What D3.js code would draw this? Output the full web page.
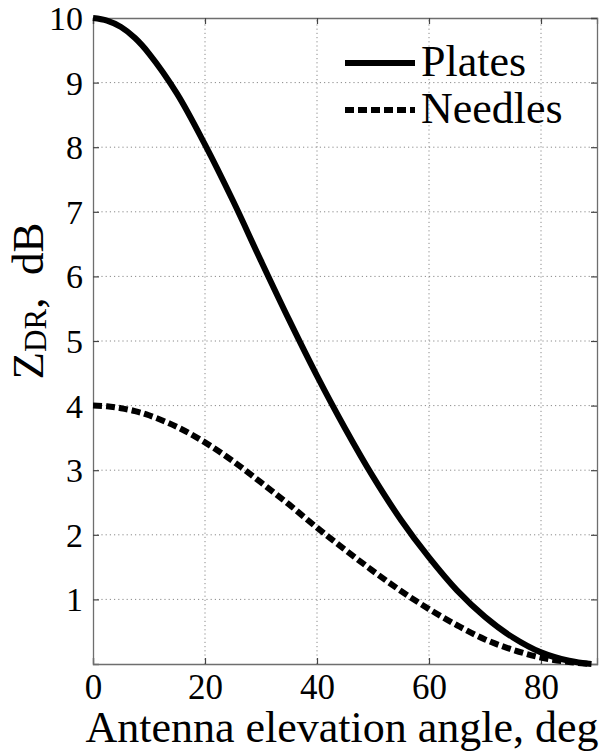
<!DOCTYPE html>
<html>
<head>
<meta charset="utf-8">
<script src="https://cdn.jsdelivr.net/npm/d3@7"></script>
<style>
  html, body { margin: 0; padding: 0; background: #fff; }
  svg { display: block; }
  svg text { font-family: "Liberation Serif", "Times New Roman", Times, "DejaVu Serif", serif !important; fill: #000; }
</style>
</head>
<body>
<svg id="chart" width="607" height="752"></svg>
<script>
// Data
const angles  = [0, 2.5, 5, 7.5, 10, 15, 20, 25, 30, 35, 40, 45, 50, 55, 60, 65, 70, 75, 80, 85, 89];
const plates  = [10, 9.96, 9.86, 9.69, 9.45, 8.83, 8.04, 7.17, 6.24, 5.33, 4.46, 3.65, 2.9, 2.23, 1.65, 1.14, 0.73, 0.41, 0.18, 0.05, 0.0];
const needles = [4.0, 3.99, 3.96, 3.915, 3.85, 3.67, 3.43, 3.14, 2.81, 2.47, 2.11, 1.77, 1.44, 1.13, 0.85, 0.6, 0.38, 0.22, 0.1, 0.03, 0.0];
const xTicks = [0, 20, 40, 60, 80];
const yTicks = [1, 2, 3, 4, 5, 6, 7, 8, 9, 10];
const seriesNames = ["Plates", "Needles"];

const FONT = '"Liberation Serif", "Times New Roman", Times, "DejaVu Serif", serif';
const margin = {left: 93, right: 10, top: 18, bottom: 88};
const W = 607, H = 752;
const svg = d3.select("#chart").attr("font-family", FONT);

const x = d3.scaleLinear().domain([0, 90]).range([margin.left, W - margin.right]);
const y = d3.scaleLinear().domain([0, 10]).range([H - margin.bottom, margin.top]);

const gridColor = "#8a8a8a";
// Grid
svg.append("g").selectAll("line.v").data(xTicks.filter(d => d > 0)).join("line")
  .attr("x1", d => x(d)).attr("x2", d => x(d))
  .attr("y1", y(0)).attr("y2", y(10))
  .attr("stroke", gridColor).attr("stroke-width", 1).attr("stroke-dasharray", "1.2,3");
svg.append("g").selectAll("line.h").data(yTicks.filter(d => d < 10)).join("line")
  .attr("x1", x(0)).attr("x2", x(90))
  .attr("y1", d => y(d)).attr("y2", d => y(d))
  .attr("stroke", gridColor).attr("stroke-width", 1).attr("stroke-dasharray", "1.2,3");

// Axes (ticks inside, box)
const axColor = "#6e6e6e";
const xAxis = svg.append("g").attr("transform", `translate(0,${y(0)})`)
  .call(d3.axisBottom(x).tickValues(xTicks).tickSize(-6).tickPadding(10).tickFormat(d3.format("d")));
const yAxis = svg.append("g").attr("transform", `translate(${x(0)},0)`)
  .call(d3.axisLeft(y).tickValues(yTicks).tickSize(-6).tickPadding(10).tickFormat(d3.format("d")));
svg.append("g").attr("transform", `translate(0,${y(10)})`)
  .call(d3.axisTop(x).tickValues(xTicks).tickSize(-6).tickFormat(""));
svg.append("g").attr("transform", `translate(${x(90)},0)`)
  .call(d3.axisRight(y).tickValues(yTicks).tickSize(-6).tickFormat(""));
svg.selectAll("g").attr("font-family", FONT);
svg.selectAll(".domain").attr("stroke", axColor).attr("stroke-width", 1.3);
svg.selectAll(".tick line").attr("stroke", "#444").attr("stroke-width", 1.2);
xAxis.selectAll(".tick text").attr("font-size", 35).attr("fill", "#000");
yAxis.selectAll(".tick text").attr("font-size", 34).attr("fill", "#000").attr("dy", "0.34em");

// Lines
const line = d3.line().x(d => x(d[0])).y(d => y(d[1])).curve(d3.curveCatmullRom.alpha(0.5));
svg.append("path").datum(angles.map((a, i) => [a, needles[i]]))
  .attr("d", line).attr("fill", "none").attr("stroke", "#000")
  .attr("stroke-width", 6).attr("stroke-dasharray", "9,4");
svg.append("path").datum(angles.map((a, i) => [a, plates[i]]))
  .attr("d", line).attr("fill", "none").attr("stroke", "#000")
  .attr("stroke-width", 6).attr("stroke-linejoin", "round");

// Legend
const leg = svg.append("g");
const legItems = [{name: seriesNames[0], dash: null, yy: 63}, {name: seriesNames[1], dash: "9,4", yy: 110}];
legItems.forEach(it => {
  leg.append("line").attr("x1", 345).attr("x2", 415).attr("y1", it.yy).attr("y2", it.yy)
    .attr("stroke", "#000").attr("stroke-width", 6).attr("stroke-dasharray", it.dash);
  leg.append("text").attr("x", 421).attr("y", it.yy + 13).attr("font-size", 44).text(it.name);
});

// Axis labels
svg.append("text").attr("x", 342).attr("y", 742)
  .attr("text-anchor", "middle").attr("font-size", 44).text("Antenna elevation angle, deg");
const yl = svg.append("text").attr("transform", "translate(43,301) rotate(-90)")
  .attr("text-anchor", "middle").attr("font-size", 45);
yl.append("tspan").text("Z");
yl.append("tspan").attr("font-size", 31).attr("dy", 3).text("DR");
yl.append("tspan").attr("dy", -3).text(",\u00a0 dB");
</script>
</body>
</html>
